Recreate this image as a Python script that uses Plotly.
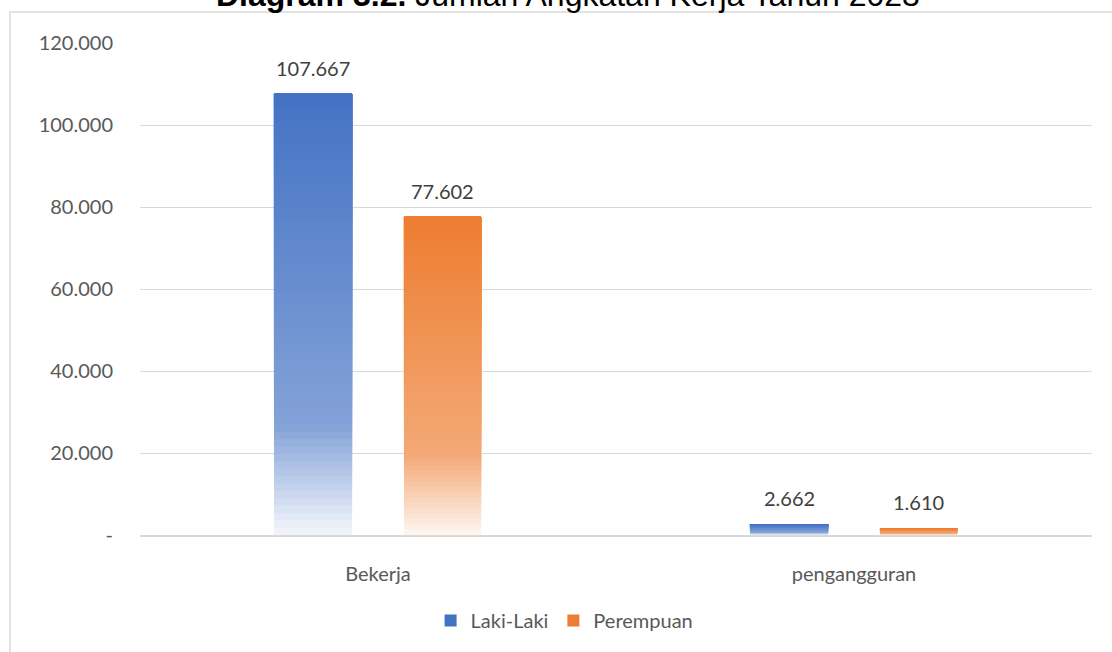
import plotly.graph_objects as go

# data
categories = ["Bekerja", "pengangguran"]
laki_laki = [107667, 2662]
perempuan = [77602, 1610]
series_names = ["Laki-Laki", "Perempuan"]
y_tick_values = [0, 20000, 40000, 60000, 80000, 100000, 120000]
y_tick_labels = ["-", "20.000", "40.000", "60.000", "80.000", "100.000", "120.000"]

TITLE = "<b>Diagram 3.2.</b> Jumlah Angkatan Kerja Tahun 2023"
FONT = "Lato"
N_SLICES = 60


def fmt(v):
    return f"{v:,}".replace(",", ".")


def mix_white(rgb, a):
    # opaque colour = base colour blended over white with weight a
    return "rgb(%d,%d,%d)" % tuple(round(255 - (255 - c) * a) for c in rgb)


def fade(f):
    # gradient strength along the bar, f = 0 at the bottom, 1 at the top
    if f >= 0.25:
        return 1 - (1 - f) * 0.45
    return 0.06 + (0.6625 - 0.06) * f / 0.25


series = [
    (series_names[0], laki_laki, (68, 114, 196), -0.2185, 0.164),
    (series_names[1], perempuan, (237, 125, 49), 0.0546, 0.162),
]

fig = go.Figure()

for name, vals, rgb, off, w in series:
    for k in range(N_SLICES):
        f0 = k / N_SLICES
        f1 = (k + 1) / N_SLICES
        # each slice runs from its start to the bar top, later slices cover
        # the upper part, so no seams show between slices
        fig.add_trace(go.Bar(
            x=categories,
            y=[v * (1 - f0) for v in vals],
            base=[v * f0 for v in vals],
            offset=off, width=w,
            marker=dict(color=mix_white(rgb, fade((f0 + f1) / 2)), line=dict(width=0)),
            name=name, legendgroup=name,
            showlegend=(k == N_SLICES - 1),
            hoverinfo="skip",
        ))
    # value labels above each bar
    for i, v in enumerate(vals):
        fig.add_annotation(
            x=i + off + w / 2, y=v, xref="x", yref="y",
            text=fmt(v), showarrow=False, yanchor="middle", yshift=26,
            font=dict(family=FONT, size=20, color="#404040"),
        )

# title, partly cut by the top edge as in the source picture
fig.add_annotation(
    x=0.45, y=1, xref="paper", yref="paper", xanchor="center", yanchor="middle",
    yshift=48, text=TITLE, showarrow=False,
    font=dict(family="Liberation Sans", size=32, color="black"),
)

# chart frame (cut by the picture edge on top/right/bottom)
fig.add_shape(type="rect", xref="paper", yref="paper",
              x0=-0.1366, x1=1.2, y0=-0.4, y1=1.0628,
              line=dict(color="#D9D9D9", width=1.5), layer="below")

fig.update_layout(
    width=1112, height=652,
    margin=dict(l=140, r=20, t=43, b=115),
    barmode="overlay",
    hovermode=False,
    paper_bgcolor="white", plot_bgcolor="white",
    legend=dict(orientation="h", x=0.446, xanchor="center", y=-0.174, yanchor="middle",
                font=dict(family=FONT, size=20, color="#595959"),
                itemwidth=30, traceorder="normal"),
    showlegend=True,
)

fig.update_xaxes(
    type="category", showgrid=False, showline=True, linecolor="#D9D9D9", linewidth=1.5,
    ticks="", ticklabelstandoff=20,
    tickfont=dict(family=FONT, size=20, color="#595959"),
)
fig.update_yaxes(
    range=[0, 120000], tickvals=y_tick_values, ticktext=y_tick_labels,
    showgrid=True, gridcolor="#D9D9D9", gridwidth=1, zeroline=False, showline=False,
    ticks="", ticklabelstandoff=26,
    tickfont=dict(family=FONT, size=20, color="#595959"),
)

fig.write_html("out.html", config={"displayModeBar": False},
               post_script="document.body.style.margin='0';")
